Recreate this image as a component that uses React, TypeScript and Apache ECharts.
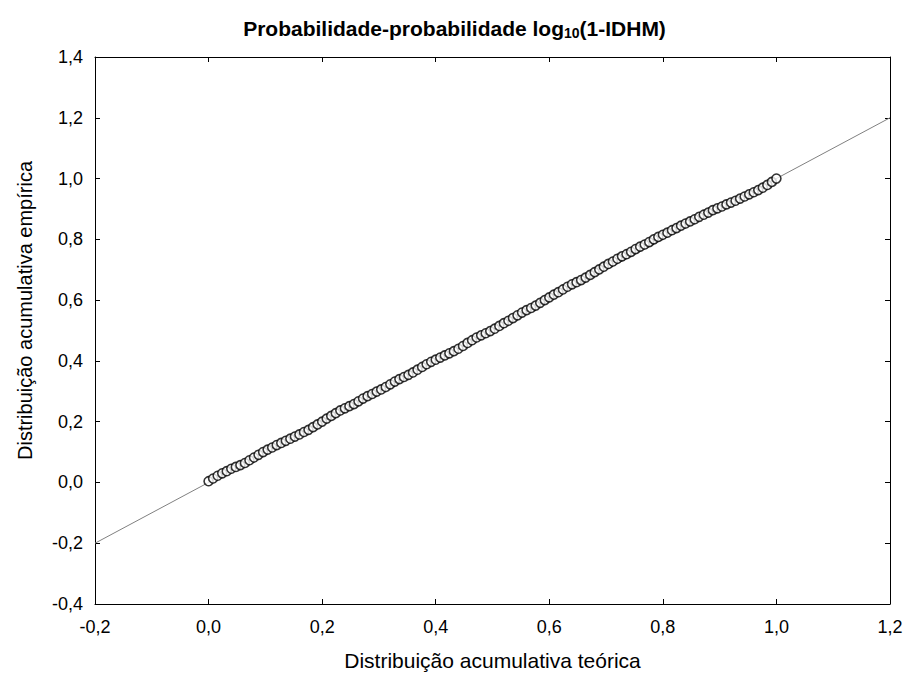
import React, { useEffect, useRef } from "react";
import * as echarts from "echarts";

const theoretical = [
  0.000, 0.008, 0.016, 0.024, 0.032, 0.040, 0.048, 0.056, 0.064, 0.072,
  0.080, 0.088, 0.096, 0.104, 0.112, 0.120, 0.128, 0.136, 0.144, 0.152,
  0.160, 0.168, 0.176, 0.184, 0.192, 0.200, 0.208, 0.216, 0.224, 0.232,
  0.240, 0.248, 0.256, 0.264, 0.272, 0.280, 0.288, 0.296, 0.304, 0.312,
  0.320, 0.328, 0.336, 0.344, 0.352, 0.360, 0.368, 0.376, 0.384, 0.392,
  0.400, 0.408, 0.416, 0.424, 0.432, 0.440, 0.448, 0.456, 0.464, 0.472,
  0.480, 0.488, 0.496, 0.504, 0.512, 0.520, 0.528, 0.536, 0.544, 0.552,
  0.560, 0.568, 0.576, 0.584, 0.592, 0.600, 0.608, 0.616, 0.624, 0.632,
  0.640, 0.648, 0.656, 0.664, 0.672, 0.680, 0.688, 0.696, 0.704, 0.712,
  0.720, 0.728, 0.736, 0.744, 0.752, 0.760, 0.768, 0.776, 0.784, 0.792,
  0.800, 0.808, 0.816, 0.824, 0.832, 0.840, 0.848, 0.856, 0.864, 0.872,
  0.880, 0.888, 0.896, 0.904, 0.912, 0.920, 0.928, 0.936, 0.944, 0.952,
  0.960, 0.968, 0.976, 0.984, 0.992, 1.000,
];

const empirical = [
  0.004, 0.013, 0.022, 0.030, 0.037, 0.045, 0.051, 0.057, 0.064, 0.073,
  0.082, 0.091, 0.100, 0.108, 0.115, 0.123, 0.130, 0.137, 0.144, 0.151,
  0.158, 0.166, 0.173, 0.182, 0.191, 0.200, 0.210, 0.219, 0.228, 0.237,
  0.244, 0.251, 0.258, 0.267, 0.276, 0.284, 0.291, 0.299, 0.306, 0.314,
  0.323, 0.332, 0.340, 0.347, 0.354, 0.362, 0.371, 0.380, 0.389, 0.397,
  0.404, 0.411, 0.418, 0.425, 0.432, 0.440, 0.449, 0.459, 0.468, 0.477,
  0.484, 0.491, 0.498, 0.506, 0.515, 0.524, 0.532, 0.541, 0.550, 0.559,
  0.567, 0.574, 0.582, 0.591, 0.600, 0.609, 0.618, 0.626, 0.635, 0.644,
  0.652, 0.659, 0.666, 0.674, 0.683, 0.692, 0.701, 0.710, 0.719, 0.727,
  0.736, 0.744, 0.751, 0.759, 0.768, 0.776, 0.783, 0.791, 0.800, 0.808,
  0.815, 0.822, 0.830, 0.837, 0.845, 0.852, 0.859, 0.866, 0.874, 0.881,
  0.888, 0.896, 0.902, 0.908, 0.915, 0.921, 0.927, 0.934, 0.941, 0.948,
  0.955, 0.962, 0.970, 0.979, 0.989, 1.000,
];

const referenceLine = [
  [-0.2, -0.2],
  [1.2, 1.2],
];

const xMin = -0.2;
const xMax = 1.2;
const yMin = -0.4;
const yMax = 1.4;
const step = 0.2;

const fmt = (v: number) => v.toFixed(1).replace(".", ",").replace("-0,0", "0,0");

export default function App() {
  const ref = useRef<HTMLDivElement>(null);

  useEffect(() => {
    if (!ref.current) return;
    const chart = echarts.init(ref.current, undefined, { renderer: "svg" });
    const font = "'Liberation Sans', Arial, sans-serif";
    const points = theoretical.map((x, i) => [x, empirical[i]]);

    const baseX = {
      type: "value" as const,
      min: xMin,
      max: xMax,
      interval: step,
      splitLine: { show: false },
      axisLine: { show: true, onZero: false, lineStyle: { color: "#000", width: 1 } },
      axisTick: { show: true, inside: true, length: 5, lineStyle: { color: "#000" } },
    };
    const baseY = {
      type: "value" as const,
      min: yMin,
      max: yMax,
      interval: step,
      splitLine: { show: false },
      axisLine: { show: true, onZero: false, lineStyle: { color: "#000", width: 1 } },
      axisTick: { show: true, inside: true, length: 5, lineStyle: { color: "#000" } },
    };

    chart.setOption({
      animation: false,
      backgroundColor: "#fff",
      title: {
        text: "{b|Probabilidade-probabilidade log}{s|10}{b|(1-IDHM)}",
        left: "center",
        top: 12,
        textStyle: {
          rich: {
            b: { fontFamily: font, fontWeight: "bold", fontSize: 21, color: "#000" },
            s: {
              fontFamily: font,
              fontWeight: "bold",
              fontSize: 14,
              color: "#000",
              verticalAlign: "bottom",
              padding: [9, 0, 0, 0],
            },
          },
        },
      },
      grid: {
        left: 95,
        right: 19,
        top: 57,
        bottom: 71,
        containLabel: false,
        outerBoundsMode: "none",
      },
      xAxis: [
        {
          ...baseX,
          position: "bottom",
          name: "Distribuição acumulativa teórica",
          nameLocation: "middle",
          nameGap: 46,
          nameTextStyle: { fontFamily: font, fontSize: 21, color: "#000" },
          axisLabel: { formatter: fmt, fontFamily: font, fontSize: 18, color: "#000", margin: 14 },
        },
        {
          ...baseX,
          position: "top",
          axisLabel: { show: false },
        },
      ],
      yAxis: [
        {
          ...baseY,
          position: "left",
          name: "Distribuição acumulativa empírica",
          nameLocation: "middle",
          nameGap: 60,
          nameTextStyle: {
            fontFamily: font,
            fontSize: 20,
            color: "#000",
            padding: [0, 0, 0, 40],
          },
          axisLabel: { formatter: fmt, fontFamily: font, fontSize: 18, color: "#000", margin: 12 },
        },
        {
          ...baseY,
          position: "right",
          axisLabel: { show: false },
        },
      ],
      series: [
        {
          type: "line",
          data: referenceLine,
          xAxisIndex: 0,
          yAxisIndex: 0,
          showSymbol: false,
          symbol: "none",
          lineStyle: { color: "#808080", width: 1 },
          z: 1,
          silent: true,
        },
        {
          type: "scatter",
          data: points,
          xAxisIndex: 0,
          yAxisIndex: 0,
          symbol: "circle",
          symbolSize: 9,
          itemStyle: { color: "#fff", borderColor: "#000", borderWidth: 1.6 },
          z: 2,
        },
      ],
    });

    return () => chart.dispose();
  }, []);

  return (
    <div
      ref={ref}
      style={{ position: "fixed", left: 0, top: 0, width: 909, height: 675 }}
    />
  );
}
